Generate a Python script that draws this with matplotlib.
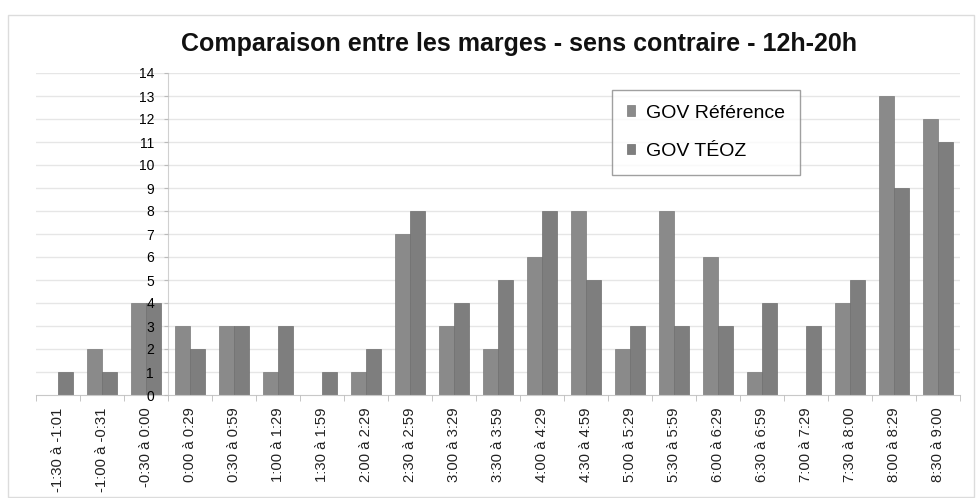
import matplotlib
matplotlib.use("Agg")
import matplotlib.pyplot as plt
import numpy as np
from matplotlib.patches import Rectangle

plt.rcParams['font.family'] = ['Liberation Sans', 'DejaVu Sans']

categories = ["-1:30 à -1:01", "-1:00 à -0:31", "-0:30 à 0:00", "0:00 à 0:29",
              "0:30 à 0:59", "1:00 à 1:29", "1:30 à 1:59", "2:00 à 2:29",
              "2:30 à 2:59", "3:00 à 3:29", "3:30 à 3:59", "4:00 à 4:29",
              "4:30 à 4:59", "5:00 à 5:29", "5:30 à 5:59", "6:00 à 6:29",
              "6:30 à 6:59", "7:00 à 7:29", "7:30 à 8:00", "8:00 à 8:29",
              "8:30 à 9:00"]
gov_reference = [0, 2, 4, 3, 3, 1, 0, 1, 7, 3, 2, 6, 8, 2, 8, 6, 1, 0, 4, 13, 12]
gov_teoz = [1, 1, 4, 2, 3, 3, 1, 2, 8, 4, 5, 8, 5, 3, 3, 3, 4, 3, 5, 9, 11]
y_ticks = list(range(0, 15))

fig = plt.figure(figsize=(9.77, 4.98), dpi=100)
fig.patches.append(Rectangle((8/977, 0.002), 966/977, 1 - 15/498 - 0.002,
                             transform=fig.transFigure, fill=False,
                             edgecolor='#dcdcdc', linewidth=1.0))
ax = fig.add_axes([36/977, 1 - 395/498, 924/977, 322/498])

x = np.arange(len(categories))
w = 0.33
ax.bar(x - w/2, gov_reference, w, color='#8a8a8a', edgecolor='#7a7a7a',
       linewidth=0.5, label='GOV Référence', zorder=2)
ax.bar(x + w/2, gov_teoz, w, color='#7e7e7e', edgecolor='#6e6e6e',
       linewidth=0.5, label='GOV TÉOZ', zorder=2)

for v in y_ticks[1:]:
    ax.axhline(v, color='#e6e6e6', linewidth=1.0, zorder=0)

ax.set_xlim(-0.5, len(categories) - 0.5)
ax.set_ylim(0, 14)
ax.set_yticks(y_ticks)
ax.set_yticklabels([str(v) for v in y_ticks], fontsize=11.5, color='#222222')

ax.set_xticks(x)
ax.set_xticklabels(categories, rotation=90, fontsize=10.7, color='#222222')
ax.set_xticks(np.arange(-0.5, len(categories), 1.0), minor=True)
ax.tick_params(axis='x', which='major', length=0, pad=9)
ax.tick_params(axis='x', which='minor', length=4, color='#bbbbbb', direction='out')
ax.tick_params(axis='y', length=3, color='#bbbbbb', pad=7)
ax.yaxis.set_zorder(5)
ax.xaxis.set_zorder(5)

for s in ['top', 'right']:
    ax.spines[s].set_visible(False)
ax.spines['left'].set_position(('data', 2.5))
ax.spines['left'].set_color('#d0d0d0')
ax.spines['left'].set_zorder(1)
ax.spines['bottom'].set_color('#c8c8c8')

fig.text(519/977, 1 - 44/498, "Comparaison entre les marges - sens contraire - 12h-20h",
         ha='center', va='center', fontsize=18, fontweight='bold', color='#111111')

leg = ax.legend(loc='upper left', bbox_to_anchor=((612-36)/924, (395-90)/322),
                fontsize=14, frameon=True, fancybox=False, edgecolor='#888888',
                handlelength=0.45, handleheight=0.45, handletextpad=0.55,
                labelspacing=1.1, borderpad=0.75, borderaxespad=0)
leg.get_frame().set_linewidth(1.0)
leg.set_zorder(6)

fig.savefig("out.png", dpi=100)
